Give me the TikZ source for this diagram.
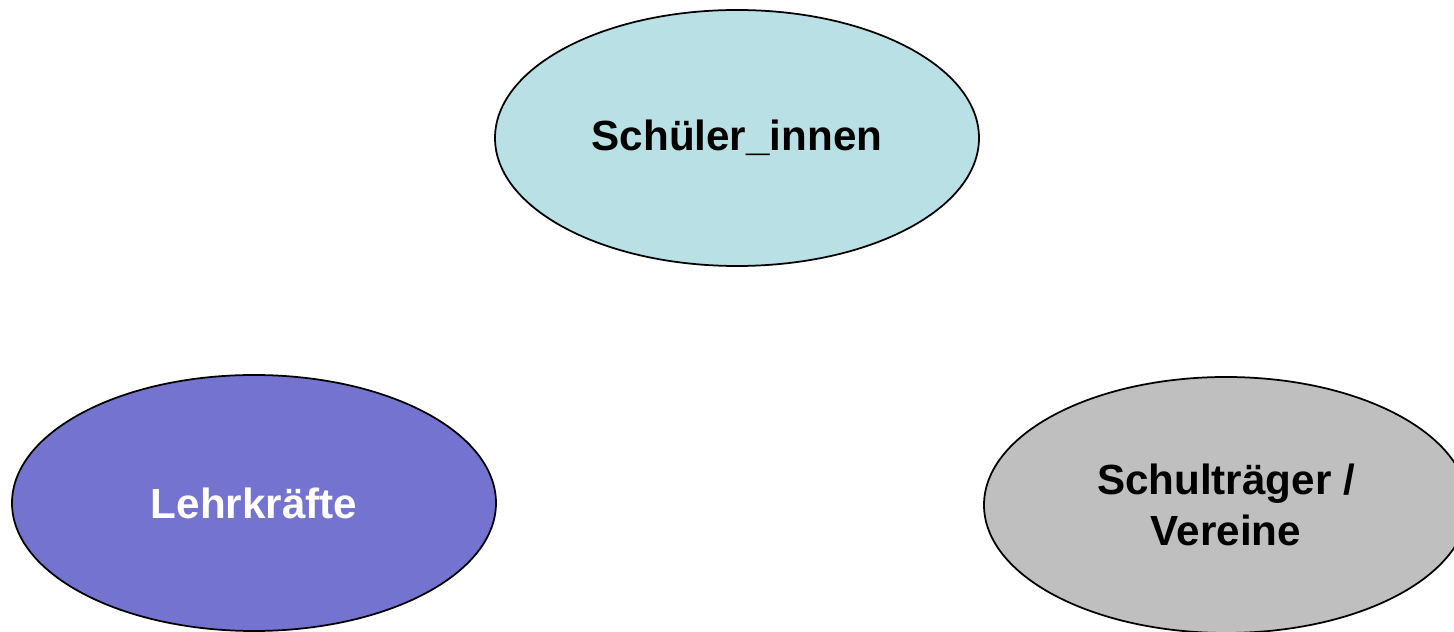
\documentclass[tikz,border=0pt]{standalone}
\usepackage{fontspec}
\setmainfont{Liberation Sans}
\usetikzlibrary{shapes.geometric}

\definecolor{schuelercol}{RGB}{185,224,228}
\definecolor{lehrcol}{RGB}{116,116,208}
\definecolor{traegercol}{RGB}{191,191,191}

\tikzset{
  group/.style={ellipse, draw=black, line width=0.5pt, minimum width=4.84cm,
    minimum height=2.56cm, inner sep=0pt, align=center, font=\fontsize{12}{14.5}\selectfont\bfseries}
}

\begin{document}
\begin{tikzpicture}

% page size
\useasboundingbox (0,0) rectangle (14.54,6.32);
\clip (0,0) rectangle (14.54,6.32);

% the three groups
\node[group, fill=schuelercol] (schueler) at (7.37,4.94) {Sch\"uler\_innen};
\node[group, fill=lehrcol, text=white] (lehr) at (2.54,1.29) {Lehrkr\"afte};
\node[group, fill=traegercol] (traeger) at (12.26,1.27) {Schultr\"ager /\\Vereine};

\end{tikzpicture}
\end{document}
